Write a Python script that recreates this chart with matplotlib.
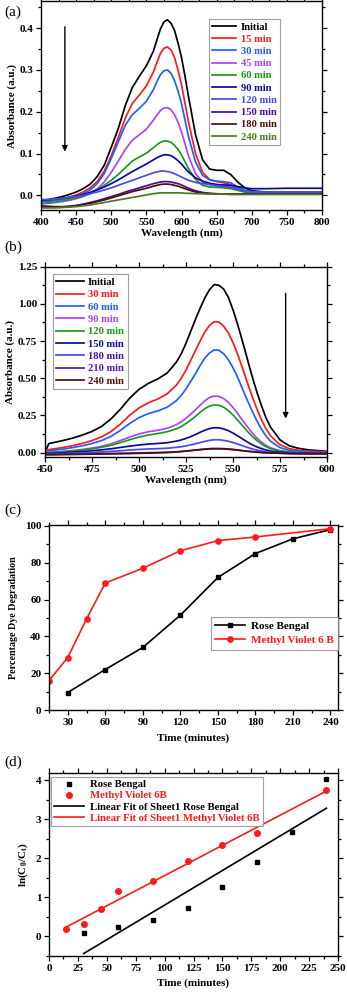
import matplotlib
matplotlib.use("Agg")
import matplotlib.pyplot as plt
import numpy as np
from matplotlib.ticker import MultipleLocator

plt.rcParams['font.family'] = ['Liberation Serif', 'DejaVu Serif']
plt.rcParams['font.weight'] = 'bold'
plt.rcParams['mathtext.fontset'] = 'custom'
plt.rcParams['mathtext.rm'] = 'Liberation Serif:bold'
plt.rcParams['mathtext.it'] = 'Liberation Serif:bold'
plt.rcParams['mathtext.bf'] = 'Liberation Serif:bold'
plt.rcParams['lines.solid_joinstyle'] = 'round'

# ---------------- Panel (a) data ----------------
wl_a = [400, 410, 420, 430, 440, 450, 460, 470, 480, 490, 500, 510, 520, 530, 540, 550, 560, 565, 570, 575,
        580, 585, 590, 595, 600, 605, 610, 620, 630, 640, 650, 660, 670, 680, 690, 700, 720, 750, 800]
labels_a = ['Initial', '15 min', '30 min', '45 min', '60 min', '90 min', '120 min', '150 min', '180 min', '240 min']
colors_a = ['#000000', '#ff1a1a', '#1f5fff', '#b040ff', '#1a9a1a', '#0a0a9a', '#4a4ae6', '#4b0a9a', '#4a1010', '#4a7a20']
abs_init_a = [-0.012, -0.010, -0.007, -0.003, 0.002, 0.008, 0.016, 0.027, 0.045, 0.072, 0.115, 0.160, 0.215, 0.258, 0.285, 0.310, 0.345, 0.372, 0.398, 0.415,
              0.420, 0.412, 0.395, 0.365, 0.330, 0.285, 0.236, 0.145, 0.085, 0.063, 0.060, 0.060, 0.050, 0.032, 0.018, 0.011, 0.008, 0.007, 0.006]
abs_15_a = [-0.015, -0.013, -0.011, -0.008, -0.004, 0.001, 0.008, 0.018, 0.033, 0.058, 0.095, 0.138, 0.185, 0.220, 0.240, 0.262, 0.295, 0.318, 0.340, 0.352,
            0.355, 0.348, 0.330, 0.300, 0.265, 0.220, 0.175, 0.100, 0.055, 0.038, 0.033, 0.030, 0.026, 0.017, 0.010, 0.006, 0.005, 0.005, 0.005]
abs_30_a = [-0.015, -0.014, -0.012, -0.010, -0.006, -0.002, 0.004, 0.013, 0.028, 0.052, 0.088, 0.128, 0.168, 0.193, 0.208, 0.225, 0.253, 0.272, 0.289, 0.298,
            0.300, 0.292, 0.275, 0.250, 0.220, 0.180, 0.140, 0.080, 0.048, 0.037, 0.034, 0.033, 0.030, 0.020, 0.012, 0.009, 0.008, 0.008, 0.008]
abs_45_a = [-0.020, -0.019, -0.017, -0.015, -0.012, -0.008, -0.003, 0.004, 0.015, 0.032, 0.055, 0.082, 0.110, 0.132, 0.145, 0.158, 0.180, 0.192, 0.203, 0.209,
            0.210, 0.205, 0.193, 0.175, 0.152, 0.123, 0.094, 0.052, 0.032, 0.026, 0.023, 0.022, 0.020, 0.015, 0.009, 0.006, 0.005, 0.005, 0.005]
abs_60_a = [-0.020, -0.018, -0.016, -0.013, -0.010, -0.006, -0.001, 0.006, 0.014, 0.024, 0.036, 0.050, 0.066, 0.082, 0.092, 0.101, 0.114, 0.121, 0.127, 0.130,
            0.130, 0.127, 0.120, 0.110, 0.097, 0.080, 0.064, 0.038, 0.024, 0.020, 0.019, 0.018, 0.016, 0.012, 0.008, 0.006, 0.005, 0.005, 0.005]
abs_90_a = [-0.012, -0.011, -0.009, -0.007, -0.005, -0.002, 0.002, 0.007, 0.013, 0.020, 0.028, 0.037, 0.047, 0.057, 0.066, 0.075, 0.085, 0.090, 0.094, 0.097,
            0.097, 0.095, 0.090, 0.083, 0.075, 0.065, 0.056, 0.042, 0.034, 0.029, 0.026, 0.025, 0.024, 0.021, 0.018, 0.016, 0.016, 0.017, 0.017]
abs_120_a = [-0.010, -0.010, -0.009, -0.007, -0.005, -0.003, 0.000, 0.004, 0.008, 0.013, 0.018, 0.024, 0.030, 0.036, 0.042, 0.048, 0.054, 0.056, 0.058, 0.058,
             0.057, 0.055, 0.052, 0.048, 0.044, 0.040, 0.036, 0.031, 0.028, 0.026, 0.023, 0.021, 0.019, 0.015, 0.011, 0.008, 0.008, 0.008, 0.008]
abs_150_a = [-0.025, -0.026, -0.027, -0.027, -0.026, -0.024, -0.021, -0.017, -0.013, -0.008, -0.003, 0.002, 0.008, 0.013, 0.018, 0.023, 0.028, 0.030, 0.032, 0.033,
             0.033, 0.032, 0.030, 0.028, 0.025, 0.021, 0.017, 0.011, 0.007, 0.005, 0.004, 0.003, 0.003, 0.003, 0.003, 0.003, 0.003, 0.003, 0.003]
abs_180_a = [-0.028, -0.028, -0.028, -0.028, -0.027, -0.025, -0.022, -0.019, -0.015, -0.011, -0.006, -0.001, 0.004, 0.009, 0.013, 0.017, 0.022, 0.024, 0.026, 0.027,
             0.027, 0.026, 0.024, 0.022, 0.019, 0.016, 0.013, 0.008, 0.005, 0.004, 0.003, 0.003, 0.003, 0.003, 0.003, 0.003, 0.003, 0.003, 0.003]
abs_240_a = [-0.030, -0.030, -0.030, -0.029, -0.028, -0.027, -0.025, -0.023, -0.020, -0.017, -0.014, -0.011, -0.008, -0.005, -0.002, 0.001, 0.004, 0.005, 0.006, 0.006,
             0.006, 0.006, 0.006, 0.006, 0.006, 0.005, 0.005, 0.004, 0.004, 0.003, 0.003, 0.003, 0.002, 0.002, 0.002, 0.002, 0.002, 0.002, 0.002]
series_a = [abs_init_a, abs_15_a, abs_30_a, abs_45_a, abs_60_a, abs_90_a, abs_120_a, abs_150_a, abs_180_a, abs_240_a]

# ---------------- Panel (b) data ----------------
wl_b = [450, 452, 455, 460, 465, 470, 475, 480, 485, 490, 495, 500, 505, 510, 515, 520, 522.5, 525, 527.5, 530, 532.5,
        535, 537.5, 540, 542.5, 545, 547.5, 550, 552.5, 555, 557.5, 560, 562.5, 565, 567.5, 570, 575, 580, 585, 590, 600]
labels_b = ['Initial', '30 min', '60 min', '90 min', '120 min', '150 min', '180 min', '210 min', '240 min']
colors_b = ['#000000', '#ff1a1a', '#1f5fff', '#b040ff', '#1a9a1a', '#0a0a9a', '#4a4ae6', '#5a1ab0', '#4a1010']
text_colors_b = ['#000000', '#ff1a1a', '#1f5fff', '#b040ff', '#1a9a1a', '#0a0a9a', '#4b1a9a', '#5a1ab0', '#4a1010']
abs_init_b = [0.000, 0.060, 0.068, 0.082, 0.098, 0.118, 0.142, 0.175, 0.225, 0.290, 0.365, 0.425, 0.465, 0.495, 0.535, 0.610, 0.665, 0.735, 0.815, 0.895, 0.970,
              1.040, 1.095, 1.130, 1.125, 1.100, 1.045, 0.960, 0.860, 0.750, 0.635, 0.520, 0.415, 0.320, 0.235, 0.170, 0.085, 0.045, 0.028, 0.018, 0.008]
abs_30_b = [0.020, 0.020, 0.025, 0.035, 0.047, 0.062, 0.080, 0.105, 0.140, 0.190, 0.250, 0.300, 0.335, 0.360, 0.395, 0.455, 0.500, 0.555, 0.620, 0.685, 0.750,
            0.810, 0.855, 0.880, 0.878, 0.850, 0.805, 0.740, 0.660, 0.570, 0.475, 0.385, 0.300, 0.225, 0.160, 0.112, 0.052, 0.026, 0.015, 0.010, 0.005]
abs_60_b = [0.010, 0.012, 0.016, 0.024, 0.034, 0.046, 0.061, 0.080, 0.108, 0.148, 0.195, 0.235, 0.262, 0.280, 0.305, 0.350, 0.385, 0.428, 0.478, 0.530, 0.585,
            0.635, 0.670, 0.690, 0.688, 0.665, 0.625, 0.570, 0.505, 0.430, 0.355, 0.285, 0.218, 0.160, 0.112, 0.076, 0.033, 0.015, 0.008, 0.004, 0.000]
abs_90_b = [0.000, 0.001, 0.003, 0.008, 0.014, 0.021, 0.030, 0.042, 0.058, 0.080, 0.104, 0.125, 0.140, 0.150, 0.163, 0.188, 0.207, 0.230, 0.258, 0.287, 0.318,
            0.348, 0.370, 0.380, 0.378, 0.363, 0.338, 0.303, 0.262, 0.218, 0.175, 0.136, 0.100, 0.071, 0.048, 0.031, 0.012, 0.004, 0.000, -0.002, -0.003]
abs_120_b = [0.000, 0.000, 0.002, 0.006, 0.011, 0.017, 0.025, 0.035, 0.048, 0.066, 0.086, 0.104, 0.118, 0.128, 0.140, 0.160, 0.175, 0.195, 0.218, 0.243, 0.270,
             0.295, 0.313, 0.320, 0.318, 0.305, 0.283, 0.253, 0.218, 0.181, 0.145, 0.112, 0.083, 0.059, 0.040, 0.026, 0.010, 0.003, 0.000, -0.002, -0.003]
abs_150_b = [-0.005, -0.005, -0.004, -0.001, 0.003, 0.007, 0.012, 0.018, 0.025, 0.034, 0.043, 0.051, 0.057, 0.061, 0.066, 0.077, 0.085, 0.095, 0.107, 0.121, 0.136,
             0.150, 0.161, 0.167, 0.166, 0.159, 0.147, 0.131, 0.112, 0.092, 0.072, 0.054, 0.039, 0.027, 0.017, 0.010, 0.002, -0.002, -0.004, -0.005, -0.005]
abs_180_b = [-0.010, -0.010, -0.009, -0.007, -0.004, -0.002, 0.001, 0.004, 0.008, 0.012, 0.017, 0.021, 0.024, 0.026, 0.029, 0.035, 0.039, 0.045, 0.052, 0.059, 0.067,
             0.075, 0.082, 0.086, 0.086, 0.082, 0.076, 0.067, 0.057, 0.046, 0.035, 0.025, 0.017, 0.010, 0.005, 0.001, -0.003, -0.005, -0.006, -0.007, -0.007]
abs_210_b = [-0.012, -0.012, -0.012, -0.011, -0.010, -0.009, -0.008, -0.007, -0.006, -0.005, -0.004, -0.003, -0.001, 0.000, 0.002, 0.005, 0.007, 0.010, 0.013, 0.016, 0.019,
             0.022, 0.024, 0.025, 0.025, 0.024, 0.022, 0.019, 0.016, 0.012, 0.009, 0.006, 0.003, 0.001, -0.001, -0.002, -0.004, -0.006, -0.007, -0.007, -0.008]
abs_240_b = [-0.015, -0.015, -0.015, -0.014, -0.013, -0.012, -0.011, -0.010, -0.009, -0.008, -0.007, -0.005, -0.004, -0.002, 0.000, 0.004, 0.007, 0.010, 0.013, 0.017, 0.020,
             0.023, 0.026, 0.027, 0.027, 0.026, 0.024, 0.021, 0.017, 0.013, 0.009, 0.006, 0.003, 0.000, -0.002, -0.003, -0.005, -0.007, -0.008, -0.008, -0.008]
series_b = [abs_init_b, abs_30_b, abs_60_b, abs_90_b, abs_120_b, abs_150_b, abs_180_b, abs_210_b, abs_240_b]

# ---------------- Panel (c) data ----------------
t_rb = [30, 60, 90, 120, 150, 180, 210, 240]
deg_rb = [9.5, 22, 34, 51.5, 72, 85, 93, 98]
t_mv = [15, 30, 45, 60, 90, 120, 150, 180, 240]
deg_mv = [16, 28.5, 49.5, 69, 77, 86.5, 92, 94, 98.5]

# ---------------- Panel (d) data ----------------
ln_rb = [0.10, 0.25, 0.42, 0.73, 1.27, 1.90, 2.67, 4.03]
ln_mv = [0.18, 0.33, 0.69, 1.17, 1.43, 1.94, 2.35, 2.64, 3.74]

W, H = 347, 992
fig = plt.figure(figsize=(W / 100, H / 100), dpi=100)


def ax_px(x0, x1, y0, y1):
    return fig.add_axes([x0 / W, 1 - y1 / H, (x1 - x0) / W, (y1 - y0) / H])


TICK_FS = 8
LAB_FS = 8


def style(ax):
    ax.tick_params(which='both', direction='out', top=True, right=True,
                   labelsize=TICK_FS, width=0.9, pad=2)
    ax.tick_params(which='major', length=3.5)
    ax.tick_params(which='minor', length=2)
    ax.tick_params(labeltop=False, labelright=False)
    for s in ax.spines.values():
        s.set_linewidth(1.0)
    for lab in ax.get_xticklabels() + ax.get_yticklabels():
        lab.set_fontweight('bold')


def color_legend(leg, colors):
    leg.get_frame().set_linewidth(0.8)
    for t, c in zip(leg.get_texts(), colors):
        t.set_color(c)
        t.set_fontweight('bold')


# ---------- (a) ----------
axa = ax_px(41, 322, 1, 210)
for y, c, l in zip(series_a, colors_a, labels_a):
    axa.plot(wl_a, y, color=c, lw=1.25, label=l)
axa.set_xlim(400, 800)
axa.set_ylim(-0.035, 0.465)
axa.xaxis.set_major_locator(MultipleLocator(50))
axa.xaxis.set_minor_locator(MultipleLocator(25))
axa.yaxis.set_minor_locator(MultipleLocator(0.05))
axa.set_yticks([0.0, 0.1, 0.2, 0.3, 0.4])
axa.set_yticklabels(['0.0', '0.1', '0.2', '0.3', '0.4'])
style(axa)
axa.set_xlabel('Wavelength (nm)', fontsize=LAB_FS, fontweight='bold', labelpad=1)
axa.set_ylabel('Absorbance (a.u.)', fontsize=LAB_FS, fontweight='bold', labelpad=2)
axa.annotate('', xy=(434, 0.098), xytext=(434, 0.41),
             arrowprops=dict(arrowstyle='-|>', color='black', lw=1.0, mutation_scale=8))
leg = axa.legend(loc='upper left', bbox_to_anchor=(0.598, 0.914), fontsize=7.6,
                 frameon=True, fancybox=False, edgecolor='#888888', handlelength=2.3,
                 labelspacing=0.27, borderpad=0.3, handletextpad=0.4, borderaxespad=0)
color_legend(leg, colors_a)
fig.text(4 / W, 1 - 12 / H, '(a)', fontsize=11, fontweight='normal', va='center', ha='left')

# ---------- (b) ----------
axb = ax_px(45, 327, 266.7, 457)
for y, c, l in zip(series_b, colors_b, labels_b):
    axb.plot(wl_b, y, color=c, lw=1.25, label=l)
axb.set_xlim(450, 600)
axb.set_ylim(-0.03, 1.25)
axb.xaxis.set_major_locator(MultipleLocator(25))
axb.xaxis.set_minor_locator(MultipleLocator(12.5))
axb.yaxis.set_minor_locator(MultipleLocator(0.125))
axb.set_yticks([0, 0.25, 0.5, 0.75, 1.0, 1.25])
axb.set_yticklabels(['0.00', '0.25', '0.50', '0.75', '1.00', '1.25'])
style(axb)
axb.set_xlabel('Wavelength (nm)', fontsize=LAB_FS, fontweight='bold', labelpad=1)
axb.set_ylabel('Absorbance (a.u.)', fontsize=LAB_FS, fontweight='bold', labelpad=2)
axb.annotate('', xy=(578, 0.21), xytext=(578, 1.09),
             arrowprops=dict(arrowstyle='-|>', color='black', lw=1.0, mutation_scale=8))
leg = axb.legend(loc='upper left', bbox_to_anchor=(0.027, 0.962), fontsize=7.6,
                 frameon=True, fancybox=False, edgecolor='#888888', handlelength=2.6,
                 labelspacing=0.28, borderpad=0.35, handletextpad=0.4, borderaxespad=0)
color_legend(leg, text_colors_b)
fig.text(4 / W, 1 - 247 / H, '(b)', fontsize=11, fontweight='normal', va='center', ha='left')

# ---------- (c) ----------
axc = ax_px(49, 338, 525, 710)
axc.plot(t_rb, deg_rb, color='black', lw=1.2, marker='s', ms=3.5, label='Rose Bengal')
axc.plot(t_mv, deg_mv, color='#ff1a1a', lw=1.2, marker='o', ms=3.8, label='Methyl Violet 6 B')
axc.set_xlim(15, 246)
axc.set_ylim(0, 100.5)
axc.set_xticks([30, 60, 90, 120, 150, 180, 210, 240])
axc.xaxis.set_minor_locator(MultipleLocator(15))
axc.set_yticks([0, 20, 40, 60, 80, 100])
axc.yaxis.set_minor_locator(MultipleLocator(10))
style(axc)
axc.set_xlabel('Time (minutes)', fontsize=LAB_FS, fontweight='bold', labelpad=5)
axc.set_ylabel('Percentage Dye Degradation', fontsize=7.2, fontweight='bold', labelpad=5)
leg = axc.legend(loc='upper left', bbox_to_anchor=(0.56, 0.504), fontsize=8,
                 frameon=True, fancybox=False, edgecolor='#888888', handlelength=2.7,
                 labelspacing=0.4, borderpad=0.4, handletextpad=0.5, borderaxespad=0)
color_legend(leg, ['black', '#ff1a1a'])
fig.text(4 / W, 1 - 510 / H, '(c)', fontsize=11, fontweight='normal', va='center', ha='left')

# ---------- (d) ----------
axd = ax_px(49, 338, 773, 956)
p_rb = np.polyfit(t_rb, ln_rb, 1)
p_mv = np.polyfit(t_mv, ln_mv, 1)
axd.plot(t_rb, ln_rb, ls='none', marker='s', ms=3.5, color='black', label='Rose Bengal')
axd.plot(t_mv, ln_mv, ls='none', marker='o', ms=4, color='#ff1a1a', label='Methyl Violet 6B')
xr = np.array([t_rb[0], t_rb[-1]])
xm = np.array([t_mv[0], t_mv[-1]])
axd.plot(xr, np.polyval(p_rb, xr), color='black', lw=1.2, label='Linear Fit of Sheet1 Rose Bengal')
axd.plot(xm, np.polyval(p_mv, xm), color='#ff1a1a', lw=1.2, label='Linear Fit of Sheet1 Methyl Violet 6B')
axd.set_xlim(0, 250)
axd.set_ylim(-0.5, 4.18)
axd.xaxis.set_major_locator(MultipleLocator(25))
axd.xaxis.set_minor_locator(MultipleLocator(12.5))
axd.set_yticks([0, 1, 2, 3, 4])
axd.yaxis.set_minor_locator(MultipleLocator(0.5))
style(axd)
axd.set_xlabel('Time (minutes)', fontsize=LAB_FS, fontweight='bold', labelpad=4)
axd.set_ylabel(r'ln(C$_0$/C$_t$)', fontsize=LAB_FS, fontweight='bold', labelpad=4)
leg = axd.legend(loc='upper left', bbox_to_anchor=(0.006, 0.98), fontsize=7.7,
                 frameon=True, fancybox=False, edgecolor='#888888', handlelength=2.8,
                 labelspacing=0.15, borderpad=0.3, handletextpad=0.6, borderaxespad=0)
color_legend(leg, ['black', '#ff1a1a', 'black', '#ff1a1a'])
fig.text(4 / W, 1 - 762 / H, '(d)', fontsize=11, fontweight='normal', va='center', ha='left')

fig.savefig('out.png', dpi=100)
